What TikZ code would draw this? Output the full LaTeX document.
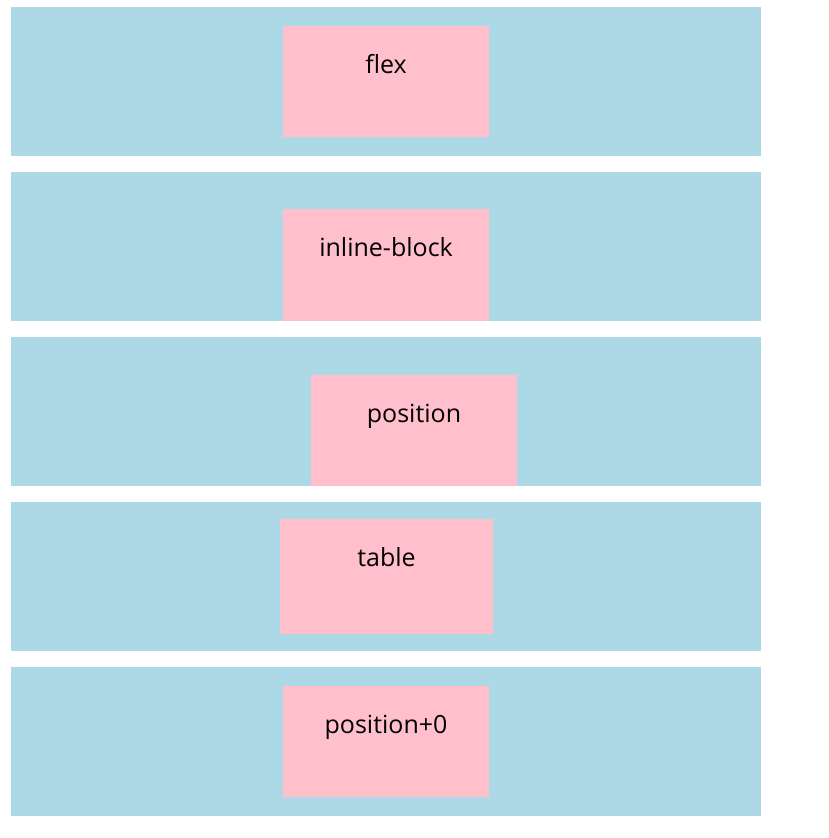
\documentclass[tikz,border=0pt]{standalone}
\usepackage{fontspec}
\setsansfont{Open Sans}
\definecolor{bandblue}{HTML}{ADD8E6}
\definecolor{boxpink}{HTML}{FFC0CB}
\tikzset{boxlabel/.style={anchor=base, inner sep=0pt, font=\fontsize{25}{30}\selectfont\sffamily}}
\begin{document}
\begin{tikzpicture}[x=1pt,y=-1pt]
  \useasboundingbox (0,0) rectangle (829,838);
  \foreach \t in {7,172,337,502,667} \fill[bandblue] (11,\t) rectangle (761,{\t+149});
  \foreach \l/\t/\r/\b/\n/\txt in {283/26/489/137/flex/flex,
      283/209/489/321/inlineblock/inline-block,
      311/375/517/486/position/position,
      280/519/493/634/table/table,
      283/686/489/797/positionzero/position+0}
  {
    \fill[boxpink] (\l,\t) rectangle (\r,\b);
    \node[boxlabel] (\n) at ({(\l+\r)/2},{\t+47}) {\txt};
  }
\end{tikzpicture}
\end{document}
